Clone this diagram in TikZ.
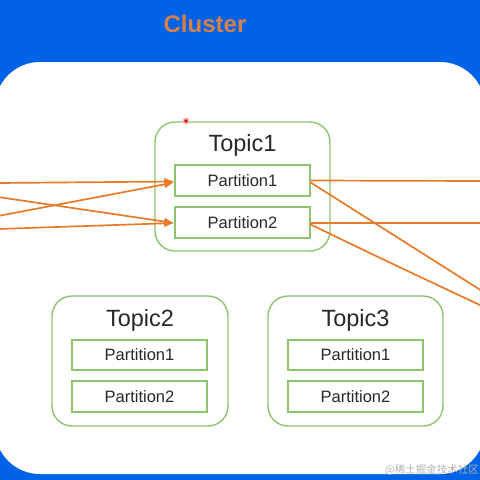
\documentclass[tikz,border=0pt]{standalone}
\usepackage{fontspec}
\setmainfont{Liberation Sans}
\newfontfamily\cjkfont{Noto Sans CJK SC}
\usetikzlibrary{arrows.meta}
\definecolor{bgblue}{RGB}{0,98,230}
\definecolor{clorange}{RGB}{214,128,74}
\definecolor{lnorange}{RGB}{232,122,40}
\definecolor{tgreen}{RGB}{142,196,112}
\definecolor{txt}{RGB}{40,40,40}
\tikzset{
  topicbox/.style={draw=tgreen, line width=1.4pt, rounded corners=20pt, fill=white},
  partbox/.style={draw=tgreen, line width=1.4pt, fill=white, text=txt, font=\fontsize{16.5}{19}\selectfont, inner sep=0pt},
  topiclabel/.style={text=txt, font=\fontsize{23.5}{27}\selectfont, inner sep=0pt},
  flow/.style={draw=lnorange, line width=1.7pt},
  flowarrow/.style={flow, -{Latex[length=10pt,width=8pt]}}
}
\begin{document}
\begin{tikzpicture}[x=1pt,y=-1pt]
\useasboundingbox (0,0) rectangle (480,480);
\begin{scope}
\clip (0,0) rectangle (480,480);
\fill[bgblue] (0,0) rectangle (480,480);
\fill[white, rounded corners=45pt] (-5,62) rectangle (485,474);

\node[font=\bfseries\fontsize{24}{28}\selectfont, text=clorange] (cluster) at (205,24) {Cluster};

% Topic1
\node[topicbox, minimum width=175pt, minimum height=129pt] (t1) at (242.5,186.5) {};
\node[topiclabel] (t1l) at (242.5,145) {Topic1};
\node[partbox, minimum width=135pt, minimum height=31pt] (t1p1) at (242.5,180.5) {Partition1};
\node[partbox, minimum width=135pt, minimum height=31pt] (t1p2) at (242.5,222.5) {Partition2};

% Topic2
\node[topicbox, minimum width=176pt, minimum height=130pt] (t2) at (140,361) {};
\node[topiclabel] (t2l) at (140,320) {Topic2};
\node[partbox, minimum width=135pt, minimum height=30pt] (t2p1) at (139.5,355) {Partition1};
\node[partbox, minimum width=135pt, minimum height=31pt] (t2p2) at (139.5,396.5) {Partition2};

% Topic3
\node[topicbox, minimum width=175pt, minimum height=130pt] (t3) at (355.5,361) {};
\node[topiclabel] (t3l) at (355.5,320) {Topic3};
\node[partbox, minimum width=135pt, minimum height=30pt] (t3p1) at (355.5,355) {Partition1};
\node[partbox, minimum width=135pt, minimum height=31pt] (t3p2) at (355.5,396.5) {Partition2};

% free ends
\coordinate (l1) at (-2,183);
\coordinate (l2) at (-2,197);
\coordinate (l3) at (-2,216);
\coordinate (l4) at (-2,229);
\coordinate (r1) at (482,181);
\coordinate (r2) at (482,291);
\coordinate (r3) at (482,223);
\coordinate (r4) at (482,306);

\draw[flowarrow] (l1) -- ([yshift=-1pt]t1p1.west);
\draw[flowarrow] (l2) -- ([yshift=-0.5pt]t1p2.west);
\draw[flowarrow] (l3) -- ([yshift=-2pt]t1p1.west);
\draw[flowarrow] (l4) -- ([yshift=-0.5pt]t1p2.west);

\draw[flow] (t1p1.east) -- (r1);
\draw[flow] ([yshift=-2pt]t1p1.east) -- (r2);
\draw[flow] ([yshift=-0.5pt]t1p2.east) -- (r3);
\draw[flow] ([yshift=-2pt]t1p2.east) .. controls (380,258) .. (r4);

% cursor dot
\fill[red!30] (186,121) circle (3.5pt);
\fill[red!85!black] (186,121) circle (1.8pt);

% watermark
\node[anchor=east, text=black!30, font=\cjkfont\fontsize{10.5}{12}\selectfont, inner sep=0pt] (wm) at (479,470) {@稀土掘金技术社区};
\end{scope}
\end{tikzpicture}
\end{document}
